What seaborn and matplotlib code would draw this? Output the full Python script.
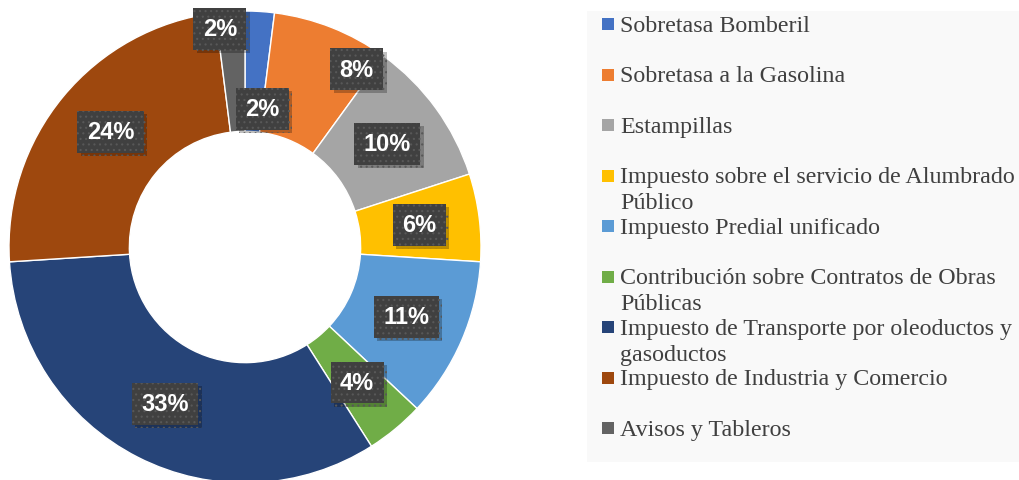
import numpy as np
import seaborn as sns
import matplotlib.pyplot as plt
import matplotlib.patheffects as pe

sns.set_style("white")
plt.rcParams["hatch.linewidth"] = 0.8

categories = [
    "Sobretasa Bomberil",
    "Sobretasa a la Gasolina",
    "Estampillas",
    "Impuesto sobre el servicio de Alumbrado\nPúblico",
    "Impuesto Predial unificado",
    "Contribución sobre Contratos de Obras\nPúblicas",
    "Impuesto de Transporte por oleoductos y\ngasoductos",
    "Impuesto de Industria y Comercio",
    "Avisos y Tableros",
]
shares = [2, 8, 10, 6, 11, 4, 33, 24, 2]
pct_labels = ["2%", "8%", "10%", "6%", "11%", "4%", "33%", "24%", "2%"]

colors = sns.color_palette(["#4472C4", "#ED7D31", "#A5A5A5", "#FFC000", "#5B9BD5",
                            "#70AD47", "#264478", "#9E480E", "#636363"])

# label placement tweaks (radius as fraction of outer radius, angle shift in degrees)
label_r = [0.59, 0.89, 0.745, 0.745, 0.745, 0.745, 0.745, 0.75, 0.93]
label_dang = [3.5, 10.5, 0, 0, 0, 0, 0, 1.0, -3.0]

W, H = 1019, 481
fig = plt.figure(figsize=(W / 100, H / 100), dpi=100)
fig.patch.set_facecolor("white")

cx, cy, R = 245, 248, 236
ax = fig.add_axes([(cx - R) / W, (H - cy - R) / H, 2 * R / W, 2 * R / H])
ax.pie(shares, colors=colors, startangle=90, counterclock=False, radius=1,
       wedgeprops=dict(width=0.51, edgecolor="white", linewidth=1))
ax.set_xlim(-1, 1)
ax.set_ylim(-1, 1)
ax.set_aspect("equal")
ax.axis("off")

total = float(sum(shares))
cum = np.cumsum([0] + shares)
for i, lab in enumerate(pct_labels):
    mid = (cum[i] + cum[i + 1]) / 2 / total * 360 + label_dang[i]
    th = np.deg2rad(mid)
    x = label_r[i] * np.sin(th)
    y = label_r[i] * np.cos(th)
    t = ax.text(x, y, lab, ha="center", va="center", color="white", fontsize=17,
                fontweight="bold", family="Liberation Sans",
                bbox=dict(boxstyle="square,pad=0.4", facecolor="#404040",
                          edgecolor="#585858", hatch="...", linewidth=0))
    t.get_bbox_patch().set_path_effects([
        pe.SimplePatchShadow(offset=(2.5, -2.5), shadow_rgbFace="black", alpha=0.25),
        pe.Normal()])

# legend panel
def fx(px):
    return px / W

def fy(py):
    return 1 - py / H

fig.patches.append(plt.Rectangle((fx(587), fy(463)), fx(1019) - fx(587), fy(12) - fy(463),
                                 transform=fig.transFigure, facecolor="#f9f9f9",
                                 edgecolor="none", zorder=0))
base0, slot, line_h = 32, 50.5, 26
for i, name in enumerate(categories):
    base = base0 + i * slot
    fig.patches.append(plt.Rectangle((fx(602), fy(base - 1)), fx(12), 12 / H,
                                     transform=fig.transFigure, facecolor=colors[i],
                                     edgecolor="none", zorder=2))
    for k, line in enumerate(name.split("\n")):
        fig.text(fx(620), fy(base + k * line_h), line, ha="left", va="baseline",
                 fontsize=17.3, family="Liberation Serif", color="#404040")

fig.savefig("out.png", dpi=100)
